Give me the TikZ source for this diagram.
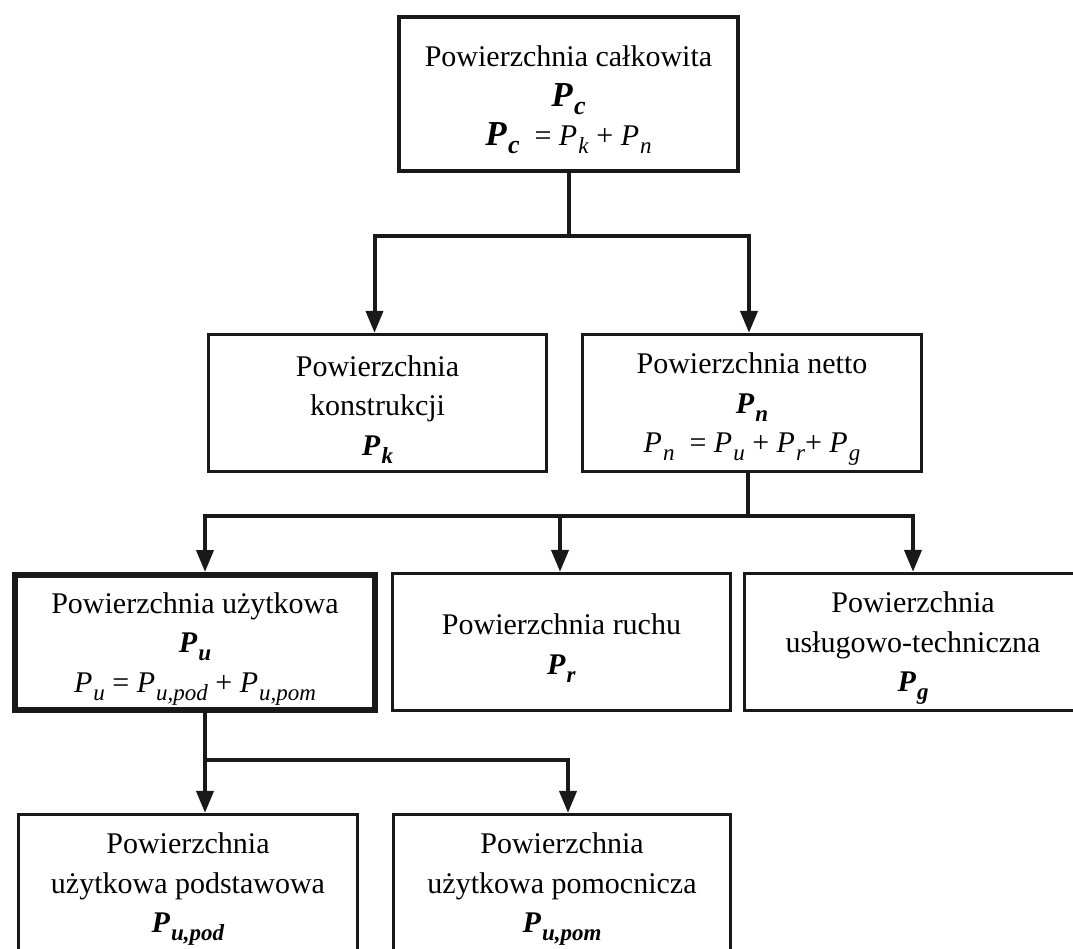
\documentclass[tikz,border=0pt]{standalone}
\usepackage{fontspec}
\setmainfont{Liberation Serif}
\usetikzlibrary{arrows.meta}
\newcommand{\sbx}[1]{\raisebox{-8pt}{\fontsize{23}{23}\selectfont #1}}
\newcommand{\Pit}[1]{\textit{P}\kern1pt\sbx{\textit{#1}}}
\newcommand{\Pbf}[1]{\textbf{\textit{P}}\kern1pt\sbx{\textbf{\textit{#1}}}}
\newcommand{\Pbig}[1]{{\fontsize{35}{35}\selectfont\textbf{\textit{P}}}\kern1pt\raisebox{-8pt}{\fontsize{26}{26}\selectfont\textbf{\textit{#1}}}}
\newcommand{\ztop}{\rule{0pt}{33pt}}
\tikzset{
  box/.style={draw=black!90, line width=3.3pt, rectangle, align=center, inner sep=0pt,
    minimum height=137pt, font=\fontsize{30}{39.5}\selectfont},
  thickbox/.style={box, line width=6pt, minimum height=135pt},
  conn/.style={line width=4pt, draw=black!90},
  arr/.style={conn, -{Triangle[length=22pt,width=17pt]}},
}
\begin{document}
\begin{tikzpicture}[x=1pt,y=-1pt]
\clip (0,0) rectangle (1073,948);
\fill[white] (0,0) rectangle (1073,948);
\node[box, minimum width=339pt, minimum height=154pt] (pc) at (568.5,94)
  {\ztop Powierzchnia całkowita\\ \Pbig{c}\\ \Pbig{c} \ = \Pit{k} + \Pit{n}};
\node[box, minimum width=338pt] (pk) at (377.5,403)
  {\ztop Powierzchnia\\ konstrukcji\\ \Pbf{k}};
\node[box, minimum width=339pt] (pn) at (752,403)
  {\ztop Powierzchnia netto\\ \Pbf{n}\\ \Pit{n} \ = \Pit{u} + \Pit{r}+ \Pit{g}};
\node[thickbox, minimum width=360pt] (pu) at (195,642.5)
  {\ztop Powierzchnia użytkowa\\ \Pbf{u}\\ \Pit{u} = \Pit{u,pod} + \Pit{u,pom}};
\node[box, minimum width=338pt] (pr) at (561.5,642)
  {\ztop Powierzchnia ruchu\\ \Pbf{r}};
\node[box, minimum width=337pt] (pg) at (913,642)
  {\ztop Powierzchnia\\ usługowo-techniczna\\ \Pbf{g}};
\node[box, minimum width=339pt] (pupod) at (188,883)
  {\ztop Powierzchnia\\ użytkowa podstawowa\\ \Pbf{u,pod}};
\node[box, minimum width=337pt] (pupom) at (562,883)
  {\ztop Powierzchnia\\ użytkowa pomocnicza\\ \Pbf{u,pom}};
% connectors
\coordinate (f1) at (568.5,236);
\draw[conn] (pc.south) -- (f1);
\draw[arr] (f1) -| ([xshift=-3pt]pk.north);
\draw[arr] (f1) -| ([xshift=-3pt]pn.north);
\coordinate (f2) at (748,516);
\draw[conn] ([xshift=-4pt]pn.south) -- (f2);
\draw[arr] (f2) -| ([xshift=10pt]pu.north);
\draw[arr] (f2) -| ([xshift=-1.5pt]pr.north);
\draw[arr] (f2) -| (pg.north);
\coordinate (f3) at (205,760);
\draw[conn] ([xshift=10pt]pu.south) -- (f3);
\draw[arr] (f3) -- ([xshift=17pt]pupod.north);
\draw[arr] (f3) -| ([xshift=6pt]pupom.north);
\end{tikzpicture}
\end{document}
